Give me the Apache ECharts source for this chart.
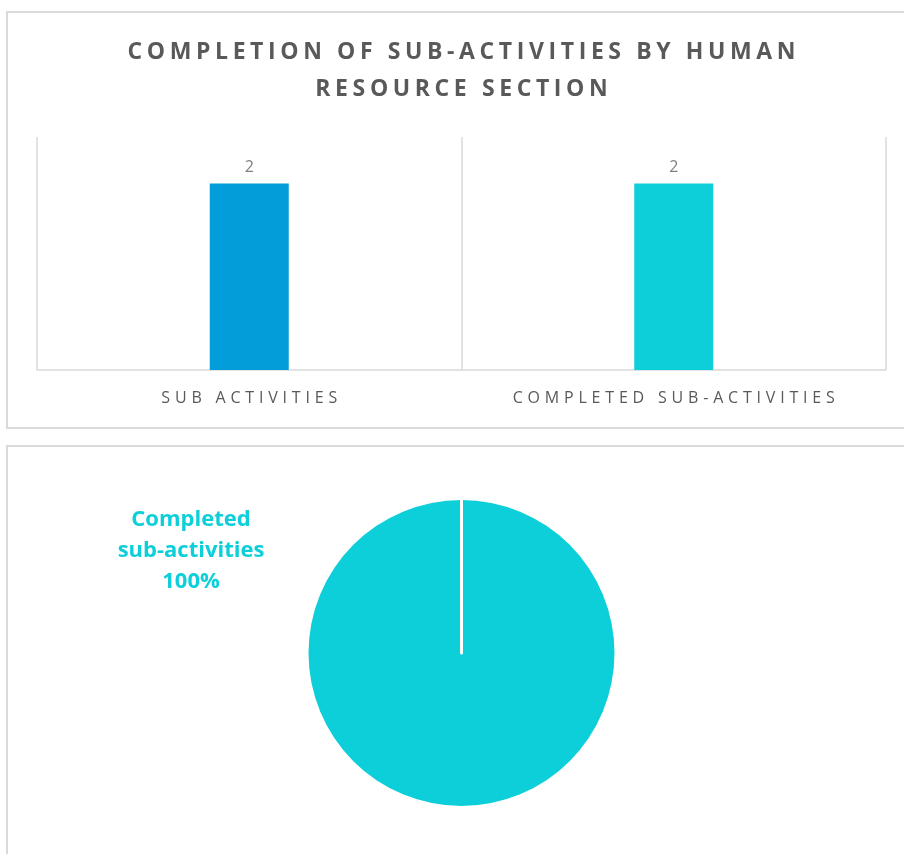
<!DOCTYPE html>
<html>
<head>
<meta charset="utf-8">
<script src="https://cdn.jsdelivr.net/npm/echarts@6/dist/echarts.min.js"></script>
<style>
  body { margin: 0; background: #fff; overflow: hidden; }
  .panel { position: absolute; left: 6px; width: 907px; border: 2px solid #d9d9d9; }
  #top { top: 11px; height: 414px; }
  #bottom { top: 445px; height: 420px; }
</style>
</head>
<body>
<div id="top" class="panel"></div>
<div id="bottom" class="panel"></div>
<script>
// data
const titleText = 'COMPLETION OF SUB-ACTIVITIES BY HUMAN\nRESOURCE SECTION'
const categories = ['SUB ACTIVITIES', 'COMPLETED SUB-ACTIVITIES']
const barValues = [2, 2]
const barColors = ['#039dd9', '#0dcfd9']
const pieNames = ['Completed\nsub-activities', 'Not completed']
const pieValues = [2, 0]

// fake letter spacing with hair spaces
const spaced = (s, n) => s.split('\n').map(l => l.split('').join('\u200A'.repeat(n))).join('\n')

const barChart = echarts.init(document.getElementById('top'))
barChart.setOption({
  animation: false,
  title: {
    text: spaced(titleText, 2),
    left: 'center',
    top: 16,
    textStyle: {
      fontFamily: 'Open Sans',
      fontWeight: 'bold',
      fontSize: 23,
      lineHeight: 37,
      color: '#595959'
    }
  },
  grid: { left: 29, right: 29, top: 124, bottom: 57 },
  xAxis: {
    type: 'category',
    data: categories,
    axisLine: { lineStyle: { color: '#d9d9d9', width: 1.5 } },
    axisTick: { show: false },
    splitLine: { show: true, lineStyle: { color: '#d9d9d9', width: 1.5 } },
    axisLabel: {
      margin: 20,
      fontFamily: 'Open Sans',
      fontSize: 16,
      color: '#595959',
      formatter: (v) => spaced(v, 3)
    }
  },
  yAxis: {
    type: 'value',
    min: 0,
    max: 2.5,
    show: false
  },
  series: [{
    type: 'bar',
    barWidth: 79,
    data: barValues.map((v, i) => ({ value: v, itemStyle: { color: barColors[i] } })),
    label: {
      show: true,
      position: 'top',
      distance: 8,
      fontFamily: 'Open Sans',
      fontSize: 16,
      color: '#7f7f7f'
    }
  }]
})

const pieChart = echarts.init(document.getElementById('bottom'))
pieChart.setOption({
  animation: false,
  series: [{
    type: 'pie',
    center: ['50%', 206],
    radius: 153,
    startAngle: 90,
    clockwise: true,
    avoidLabelOverlap: false,
    labelLine: { show: false },
    data: pieNames.map((n, i) => ({
      name: n,
      value: pieValues[i],
      itemStyle: i === 1
        ? { color: '#fff', borderColor: '#fff', borderWidth: 3 }
        : { color: '#0dcfd9' },
      label: i === 1
        ? { show: false }
        : {
            show: true,
            formatter: '{b}\n{d}%',
            fontFamily: 'Open Sans',
            fontWeight: 'bold',
            fontSize: 22,
            lineHeight: 31,
            color: '#0dcfd9'
          }
    })),
    labelLayout: (params) => params.dataIndex === 0
      ? { x: 183, y: 104, align: 'center', verticalAlign: 'middle' }
      : {}
  }]
})
</script>
</body>
</html>
